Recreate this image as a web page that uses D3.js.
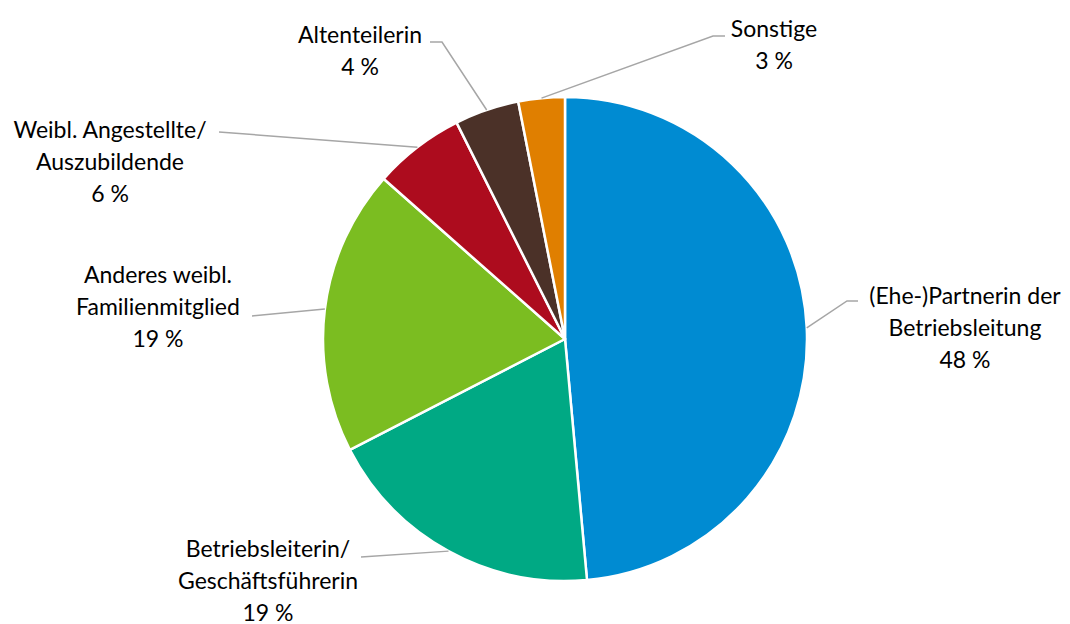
<!DOCTYPE html>
<html>
<head>
<meta charset="utf-8">
<script src="https://cdn.jsdelivr.net/npm/d3@7"></script>
<style>
  body { margin: 0; background: #fff; }
  #chart { width: 1070px; height: 624px; }
  text { font-family: Lato, "Open Sans", sans-serif; fill: #000; }
</style>
</head>
<body>
<div id="chart"></div>
<script>
// shares, clockwise from 12 o'clock
const categories = [
  '(Ehe-)Partnerin der Betriebsleitung',
  'Betriebsleiterin/ Geschäftsführerin',
  'Anderes weibl. Familienmitglied',
  'Weibl. Angestellte/ Auszubildende',
  'Altenteilerin',
  'Sonstige'
];
const values = [48.6, 18.9, 19.1, 6.1, 4.3, 3.1];
const shownPct = ['48 %', '19 %', '19 %', '6 %', '4 %', '3 %'];
const labelLines = [
  ['(Ehe-)Partnerin der', 'Betriebsleitung'],
  ['Betriebsleiterin/', 'Geschäftsführerin'],
  ['Anderes weibl.', 'Familienmitglied'],
  ['Weibl. Angestellte/', 'Auszubildende'],
  ['Altenteilerin'],
  ['Sonstige']
];
const colors = ['#008bd2', '#00a984', '#7bbd21', '#ad0c1e', '#4b3128', '#e07f00'];

// label layout: text centre x, first line y, leader end (ax, ay), elbow x
const labelLayout = [
  { x: 965, y: 295, ax: 858, ay: 301, ex: 847 },
  { x: 268, y: 548, ax: 361, ay: 557, ex: 361 },
  { x: 158, y: 274, ax: 252, ay: 316, ex: 252 },
  { x: 110, y: 129, ax: 219, ay: 132, ex: 219 },
  { x: 360, y: 34,  ax: 430, ay: 42,  ex: 442 },
  { x: 774, y: 28,  ax: 725, ay: 36,  ex: 713 }
];

const W = 1070, H = 624;
const cx = 565, cy = 339, R = 242;
const lineH = 32;

const svg = d3.select('#chart').append('svg')
  .attr('width', W)
  .attr('height', H);

const g = svg.append('g')
  .attr('transform', `translate(${cx},${cy})`);

const pie = d3.pie().sort(null).value(d => d);
const arcs = pie(values);
const arc = d3.arc().innerRadius(0).outerRadius(R);

g.selectAll('.slice')
  .data(arcs)
  .enter().append('path')
  .attr('class', 'slice')
  .attr('d', arc)
  .attr('fill', (d, i) => colors[i])
  .attr('stroke', '#fff')
  .attr('stroke-width', 2.5)
  .attr('stroke-linejoin', 'round');

// leader lines
arcs.forEach((d, i) => {
  const a = (d.startAngle + d.endAngle) / 2;
  const px = cx + R * Math.sin(a);
  const py = cy - R * Math.cos(a);
  const L = labelLayout[i];
  svg.append('polyline')
    .attr('points', `${px},${py} ${L.ex},${L.ay} ${L.ax},${L.ay}`)
    .attr('fill', 'none')
    .attr('stroke', '#a6a6a6')
    .attr('stroke-width', 1.5);
});

// labels
labelLines.forEach((lines, i) => {
  const L = labelLayout[i];
  const t = svg.append('text')
    .attr('text-anchor', 'middle')
    .attr('font-size', 23);
  lines.concat([shownPct[i]]).forEach((s, k) => {
    t.append('tspan')
      .attr('x', L.x)
      .attr('y', L.y + k * lineH)
      .attr('dominant-baseline', 'central')
      .text(s);
  });
});
</script>
</body>
</html>
